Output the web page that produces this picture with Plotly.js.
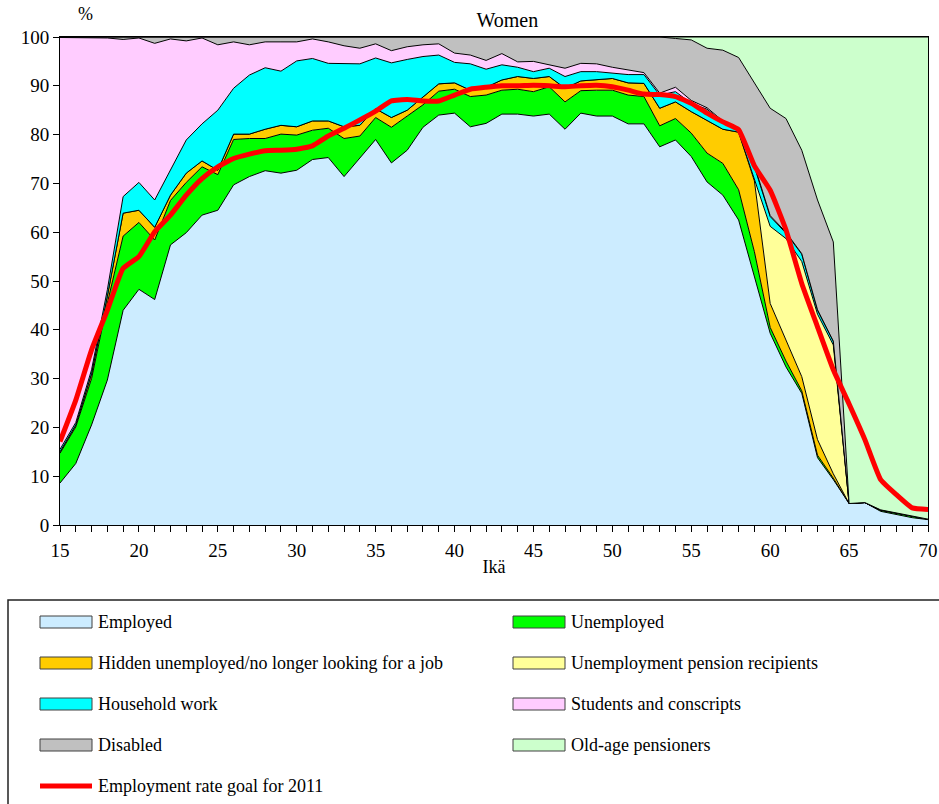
<!DOCTYPE html>
<html>
<head>
<meta charset="utf-8">
<script src="https://cdn.plot.ly/plotly-3.0.1.min.js"></script>
<style>html,body{margin:0;padding:0;background:#fff;}#chart{width:939px;height:804px;}</style>
</head>
<body>
<div id="chart"></div>
<script>
const ages = [15,16,17,18,19,20,21,22,23,24,25,26,27,28,29,30,31,32,33,34,35,36,37,38,39,40,41,42,43,44,45,46,47,48,49,50,51,52,53,54,55,56,57,58,59,60,61,62,63,64,65,66,67,68,69,70];

const employed = [8.6,12.6,20.5,29.7,44.0,48.3,46.2,57.4,59.9,63.5,
  64.5,69.7,71.4,72.6,72.1,72.7,74.9,75.3,71.4,75.1,
  79.0,74.2,76.8,81.5,84.0,84.4,81.6,82.3,84.2,84.2,
  83.8,84.2,81.1,84.4,83.8,83.8,82.2,82.2,77.5,78.9,
  75.5,70.3,67.6,62.5,51.0,39.3,32.4,27.0,13.8,9.3,
  4.4,4.6,2.8,2.2,1.5,1.1];
const unemployed = [6.1,7.5,9.5,15.8,15.2,13.7,12.2,9.1,10.3,9.9,
  7.3,9.3,7.8,6.6,8.0,7.2,6.0,6.0,7.8,4.6,
  4.5,7.3,7.0,4.6,4.9,4.9,6.2,5.8,4.9,5.1,
  5.0,5.6,5.6,4.6,5.3,5.3,5.9,5.6,4.3,4.4,
  4.8,5.9,6.5,6.2,5.0,1.2,1.2,0.5,0.5,0.3,
  0,0,0.2,0.2,0.2,0.1];
const hidden = [0.3,0.4,1.0,1.4,4.7,2.5,2.6,1.1,1.9,1.2,
  0.9,1.1,0.9,1.9,1.8,1.7,1.9,1.5,2.4,2.2,
  1.8,2.0,1.2,1.7,1.5,1.3,1.3,1.6,2.1,2.6,
  2.7,2.1,2.8,2.0,2.2,2.4,2.5,2.7,3.6,3.4,
  4.4,6.7,7.0,11.8,14.5,4.9,4.3,2.9,3.2,0.9,
  0,0,0.1,0.1,0.1,0];
const unempPension = [0,0,0,0,0,0,0,0,0,0,
  0,0,0,0,0,0,0,0,0,0,
  0,0,0,0,0,0,0,0,0,0,
  0,0,0,0,0,0,0,0,0,0,
  0,0,0,0,0.5,15.8,20.8,23.6,25.7,26.4,
  0,0,0,0,0,0];
const household = [0.5,0.5,0.8,1.3,3.4,5.7,5.6,5.1,6.8,7.6,
  12.3,9.4,12.1,12.6,11.1,13.5,12.8,11.8,13.0,12.6,
  10.4,11.2,10.4,8.2,5.9,4.2,5.4,3.7,3.1,1.9,
  1.4,1.7,2.4,1.9,1.6,1.1,1.7,1.8,2.7,2.1,
  1.7,2.3,1.5,0.4,2.4,2.0,1.1,1.5,0.8,0.7,
  0,0,0,0,0,0];
const students = [84.4,78.9,68.1,51.6,32.2,29.6,32.1,26.9,20.3,17.6,
  13.4,9.5,6.2,5.3,6.0,3.9,4.0,4.4,3.6,3.2,
  2.9,2.5,2.6,2.4,2.3,1.9,1.8,1.8,2.3,1.1,
  2.1,0.7,1.7,1.7,1.6,1.2,0.9,0.4,0.4,0.9,
  0.6,0.3,0.2,0.1,0.3,0.2,0.2,0.1,0.1,0.1,
  0,0,0,0,0,0];
const disabled = [0.1,0.1,0.1,0.2,0.5,0.2,1.3,0.4,0.8,0.2,
  1.6,1.0,1.6,1.0,1.0,1.0,0.4,1.0,1.8,2.3,
  1.4,2.8,2.0,1.6,1.4,3.3,3.7,4.8,3.4,5.1,
  5.0,5.7,6.4,5.4,5.5,6.2,6.8,7.3,11.5,10.0,
  12.4,12.2,14.5,14.8,16.8,22.0,23.3,21.2,22.5,20.3,
  0,0,0,0,0,0];
const oldAge = [0,0,0,0,0,0,0,0,0,0,
  0,0,0,0,0,0,0,0,0,0,
  0,0,0,0,0,0,0,0,0,0,
  0,0,0,0,0,0,0,0,0,0.3,
  0.6,2.3,2.7,4.2,9.5,14.6,16.7,23.2,33.4,42.0,
  95.6,95.4,96.9,97.5,98.2,98.8];
const goal2011 = [17.1,25.6,35.9,44.0,52.6,55.0,60.1,63.5,67.6,71.0,
  73.4,75.1,76.0,76.7,76.8,77.0,77.7,79.7,81.3,83.0,
  84.8,86.9,87.2,86.9,86.9,88.1,89.3,89.7,90.0,90.0,
  90.1,90.0,89.8,90.0,90.1,89.8,89.1,88.3,88.2,87.8,
  86.4,84.4,82.6,81.0,73.6,68.6,60.5,49.5,40.6,31.8,
  24.8,17.5,9.3,6.2,3.5,3.2];

const seriesNames = ['Employed','Unemployed','Hidden unemployed/no longer looking for a job','Unemployment pension recipients','Household work','Students and conscripts','Disabled','Old-age pensioners'];
const seriesValues = [employed, unemployed, hidden, unempPension, household, students, disabled, oldAge];
const seriesColors = ['#CCECFF','#00FF00','#FFCC00','#FFFF99','#00FFFF','#FFCCFF','#C0C0C0','#CCFFCC'];
const lineName = 'Employment rate goal for 2011';

const FONT = "'Liberation Serif', 'Times New Roman', serif";

// plot area in pixels (for placing the legend box below it)
const PL = 60, PR = 928, PT = 37, PB = 525;
const px = v => (v - PL) / (PR - PL);
const py = v => (PB - v) / (PB - PT);

const traces = [];
seriesNames.forEach((name, i) => {
  traces.push({
    x: ages, y: seriesValues[i], name: name, type: 'scatter', mode: 'lines',
    stackgroup: 'one', fillcolor: seriesColors[i],
    line: {color: '#000000', width: 1},
    showlegend: false, hoverinfo: 'x+y+name'
  });
});
traces.push({
  x: ages, y: goal2011, name: lineName, type: 'scatter', mode: 'lines',
  line: {color: '#FF0000', width: 5, shape: 'spline', smoothing: 0.4},
  showlegend: false
});

// legend: two columns, five rows
const colSw = [40, 513];
const rowPx = [622, 663, 704, 745, 786];
const shapes = [
  {type: 'rect', xref: 'paper', yref: 'paper', x0: px(8), x1: px(960), y0: py(600), y1: py(830),
   line: {color: '#222', width: 1.5}, fillcolor: 'rgba(0,0,0,0)'}
];
const annotations = [
  {text: '%', xref: 'paper', yref: 'paper', x: px(85), y: py(14), xanchor: 'center', yanchor: 'middle',
   showarrow: false, font: {family: FONT, size: 18, color: '#000'}}
];
seriesNames.forEach((name, i) => {
  const cx = colSw[i % 2], cy = rowPx[Math.floor(i / 2)];
  shapes.push({type: 'rect', xref: 'paper', yref: 'paper', x0: px(cx), x1: px(cx + 52), y0: py(cy - 6), y1: py(cy + 6),
    line: {color: '#404040', width: 1}, fillcolor: seriesColors[i]});
  annotations.push({text: name, xref: 'paper', yref: 'paper', x: px(cx + 56), y: py(cy), xanchor: 'left', yanchor: 'middle',
    showarrow: false, font: {family: FONT, size: 18, color: '#000'}});
});
shapes.push({type: 'line', xref: 'paper', yref: 'paper', x0: px(40), x1: px(92), y0: py(rowPx[4]), y1: py(rowPx[4]),
  line: {color: '#FF0000', width: 5}});
annotations.push({text: lineName, xref: 'paper', yref: 'paper', x: px(96), y: py(rowPx[4]), xanchor: 'left', yanchor: 'middle',
  showarrow: false, font: {family: FONT, size: 18, color: '#000'}});

const layout = {
  width: 939, height: 804,
  margin: {l: 60, r: 11, t: 37, b: 279},
  paper_bgcolor: '#ffffff', plot_bgcolor: '#ffffff',
  font: {family: FONT, size: 18, color: '#000'},
  title: {text: 'Women', x: 484/939, xanchor: 'center', xref: 'paper', y: 1 - 20/804, yanchor: 'middle', yref: 'container',
          font: {family: FONT, size: 20, color: '#000'}},
  showlegend: false,
  xaxis: {
    range: [15, 70], tickvals: [15,20,25,30,35,40,45,50,55,60,65,70],
    ticks: 'outside', ticklen: 6, tickcolor: '#000', tickwidth: 1,
    minor: {dtick: 1, ticks: 'outside', ticklen: 6, tickcolor: '#000'},
    showline: true, linecolor: '#000', linewidth: 1, mirror: true,
    showgrid: false, zeroline: false, ticklabelstandoff: 2,
    tickfont: {family: FONT, size: 19, color: '#000'},
    title: {text: 'Ikä', standoff: 0, font: {family: FONT, size: 18, color: '#000'}}
  },
  yaxis: {
    range: [0, 100], dtick: 10,
    ticks: 'outside', ticklen: 6, tickcolor: '#000', tickwidth: 1,
    showline: true, linecolor: '#000', linewidth: 1, mirror: true,
    showgrid: false, zeroline: false,
    tickfont: {family: FONT, size: 19, color: '#000'}
  },
  annotations: annotations,
  shapes: shapes
};

Plotly.newPlot('chart', traces, layout, {displayModeBar: false, staticPlot: true});
</script>
</body>
</html>
